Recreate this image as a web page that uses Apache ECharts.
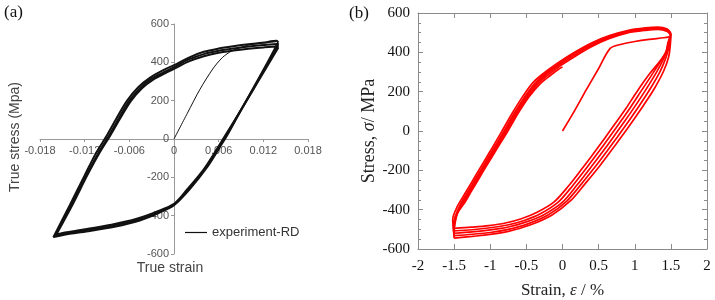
<!DOCTYPE html>
<html>
<head>
<meta charset="utf-8">
<script src="https://cdn.jsdelivr.net/npm/echarts@6/dist/echarts.min.js"></script>
<style>
  html, body { margin: 0; padding: 0; background: #fff; }
  #chart { width: 715px; height: 300px; }
</style>
</head>
<body>
<div id="chart"></div>
<script>
// ---- panel (a): ticks ----
const aStrainTicks = [-0.018, -0.012, -0.006, 0, 0.006, 0.012, 0.018]
const aStressTicks = [-600, -400, -200, 0, 200, 400, 600]

// ---- panel (a): curves, [strain, stress MPa] ----
const aInitial = [[0, 0], [0.0018, 135], [0.0035, 260], [0.0052, 365], [0.0065, 425], [0.0078, 460], [0.0100, 490], [0.0120, 500], [0.0138, 508]]

const aLoop1 = [
  [0.0140, 505], [0.0125, 395], [0.0106, 262], [0.0090, 150], [0.0073, 30], [0.0062, -40], [0.0044, -150],
  [0.0021, -262], [0, -345], [-0.0020, -385], [-0.0046, -425], [-0.0080, -458], [-0.0113, -480], [-0.0140, -495], [-0.0162, -512],
  [-0.0140, -345], [-0.0120, -190], [-0.0105, -75], [-0.0090, 20], [-0.0077, 110], [-0.0063, 200], [-0.0048, 270],
  [-0.0032, 320], [-0.0015, 358], [0, 385], [0.0020, 425], [0.0040, 455], [0.0060, 472], [0.0080, 484], [0.0100, 494],
  [0.0120, 503], [0.0138, 512], [0.0140, 505]
]
const aLoop2 = [
  [0.0140, 490], [0.0124, 380], [0.0105, 252], [0.0088, 140], [0.0071, 25], [0.0060, -45], [0.0042, -154],
  [0.0019, -264], [0, -342], [-0.0022, -383], [-0.0048, -420], [-0.0082, -452], [-0.0115, -474], [-0.0142, -490], [-0.0160, -505],
  [-0.0138, -345], [-0.0118, -190], [-0.0102, -75], [-0.0087, 20], [-0.0074, 110], [-0.0060, 200], [-0.0045, 268],
  [-0.0030, 315], [-0.0013, 350], [0, 375], [0.0020, 415], [0.0040, 443], [0.0060, 460], [0.0080, 472], [0.0100, 482],
  [0.0120, 490], [0.0139, 496], [0.0140, 490]
]
const aLoop3 = [
  [0.0140, 476], [0.0123, 365], [0.0104, 242], [0.0087, 132], [0.0069, 20], [0.0058, -50], [0.0040, -158],
  [0.0017, -266], [0, -338], [-0.0024, -380], [-0.0050, -416], [-0.0084, -447], [-0.0117, -469], [-0.0144, -486], [-0.0158, -498],
  [-0.0136, -340], [-0.0116, -186], [-0.0100, -72], [-0.0085, 22], [-0.0072, 110], [-0.0058, 198], [-0.0043, 265],
  [-0.0028, 310], [-0.0012, 343], [0, 366], [0.0020, 405], [0.0040, 432], [0.0060, 450], [0.0080, 462], [0.0100, 471],
  [0.0120, 478], [0.0139, 482], [0.0140, 476]
]

// ---- panel (b): ticks ----
const bStrainTicks = [-2, -1.5, -1, -0.5, 0, 0.5, 1, 1.5, 2]
const bStressTicks = [-600, -400, -200, 0, 200, 400, 600]

// ---- panel (b): curves, [strain %, stress MPa] ----
const bInitial = [[0, 0], [0.17, 105], [0.33, 210], [0.50, 318], [0.66, 420], [0.80, 440], [1.00, 455], [1.20, 466], [1.40, 474], [1.50, 480]]

// unloading branches (tension tip -> compression tip)
const bDown1 = [
  [1.50, 480], [1.49, 430], [1.47, 378], [1.40, 305], [1.27, 215], [1.12, 130], [0.97, 50], [0.82, -27], [0.67, -102],
  [0.52, -175], [0.32, -265], [0.12, -352], [-0.15, -428], [-0.45, -478], [-0.75, -510], [-1.00, -526], [-1.25, -536], [-1.50, -545]
]
const bDown2 = [
  [1.50, 498], [1.49, 465], [1.47, 422], [1.43, 372], [1.35, 302], [1.21, 212], [1.06, 127], [0.91, 47], [0.76, -30], [0.61, -105],
  [0.46, -178], [0.26, -270], [0.06, -356], [-0.20, -427], [-0.48, -472], [-0.75, -500], [-1.00, -516], [-1.25, -525], [-1.50, -532]
]
const bDown3 = [
  [1.50, 494], [1.48, 460], [1.45, 415], [1.40, 368], [1.30, 298], [1.15, 208], [1.00, 124], [0.85, 44], [0.70, -33], [0.55, -108],
  [0.40, -181], [0.20, -275], [0.00, -362], [-0.25, -424], [-0.50, -462], [-0.75, -488], [-1.00, -503], [-1.25, -513], [-1.50, -520]
]
const bDown4 = [
  [1.50, 490], [1.47, 455], [1.44, 408], [1.37, 362], [1.25, 293], [1.09, 204], [0.94, 120], [0.79, 41], [0.64, -36], [0.49, -111],
  [0.34, -184], [0.14, -278], [-0.06, -362], [-0.30, -420], [-0.53, -455], [-0.76, -478], [-1.00, -492], [-1.25, -502], [-1.50, -508]
]
const bDown5 = [
  [1.50, 486], [1.46, 450], [1.43, 400], [1.35, 356], [1.20, 288], [1.03, 200], [0.88, 116], [0.73, 38], [0.58, -39], [0.43, -114],
  [0.28, -187], [0.08, -281], [-0.12, -362], [-0.35, -413], [-0.57, -446], [-0.79, -468], [-1.02, -481], [-1.26, -489], [-1.50, -495]
]

// reloading branches (compression tip -> tension tip)
const bUp1 = [
  [-1.50, -545], [-1.51, -495], [-1.52, -450], [-1.45, -380], [-1.35, -318], [-1.25, -256], [-1.15, -194], [-1.00, -102],
  [-0.85, -8], [-0.70, 88], [-0.55, 176], [-0.40, 250], [-0.22, 305], [-0.05, 350], [0.15, 397], [0.40, 448], [0.65, 485],
  [0.90, 511], [1.15, 524], [1.32, 528], [1.45, 518], [1.50, 498]
]
const bUp2 = [
  [-1.50, -532], [-1.51, -485], [-1.49, -440], [-1.42, -378], [-1.32, -315], [-1.22, -253], [-1.12, -191], [-0.97, -99],
  [-0.82, -6], [-0.67, 89], [-0.52, 175], [-0.37, 247], [-0.21, 300], [-0.05, 342], [0.15, 390], [0.40, 441], [0.65, 480],
  [0.90, 507], [1.15, 520], [1.32, 524], [1.45, 514], [1.50, 494]
]
const bUp3 = [
  [-1.50, -520], [-1.50, -475], [-1.47, -430], [-1.40, -375], [-1.30, -312], [-1.20, -250], [-1.10, -188], [-0.95, -97],
  [-0.80, -5], [-0.65, 90], [-0.50, 175], [-0.35, 245], [-0.20, 295], [-0.05, 335], [0.15, 382], [0.40, 435], [0.65, 475],
  [0.90, 503], [1.15, 516], [1.32, 520], [1.45, 510], [1.50, 490]
]
const bUp4 = [
  [-1.50, -508], [-1.49, -465], [-1.46, -422], [-1.38, -372], [-1.28, -309], [-1.18, -247], [-1.08, -185], [-0.93, -95],
  [-0.78, -4], [-0.63, 91], [-0.48, 175], [-0.33, 243], [-0.19, 288], [-0.05, 327], [0.15, 374], [0.40, 428], [0.65, 470],
  [0.90, 499], [1.15, 512], [1.32, 516], [1.45, 506], [1.50, 486]
]
// last reloading stops at strain 0
const bUp5 = [
  [-1.50, -495], [-1.48, -455], [-1.45, -415], [-1.36, -368], [-1.26, -306], [-1.16, -244], [-1.06, -182], [-0.91, -92],
  [-0.76, -3], [-0.61, 92], [-0.46, 175], [-0.31, 240], [-0.17, 282], [-0.05, 315], [0.00, 325]
]

const SANS = 'Liberation Sans, Arial, sans-serif'
const SERIF = 'Liberation Serif, Times New Roman, serif'

// grid boxes (px)
const A_GRID = { left: 40, right: 407, top: 24, bottom: 46, outerBoundsMode: 'none' }
const B_GRID = { left: 418, right: 8, top: 13, bottom: 51, outerBoundsMode: 'none' }
const A_W = 715 - A_GRID.left - A_GRID.right
const A_H = 300 - A_GRID.top - A_GRID.bottom

function step(ticks) {
  return ticks[1] - ticks[0]
}

function aSeries(data, width) {
  return {
    name: 'experiment-RD',
    type: 'line',
    xAxisIndex: 0,
    yAxisIndex: 0,
    data,
    symbol: 'none',
    smooth: 0.3,
    lineStyle: { color: '#111', width },
    color: '#111'
  }
}

function bSeries(name, data) {
  return {
    name,
    type: 'line',
    xAxisIndex: 1,
    yAxisIndex: 1,
    data,
    symbol: 'none',
    smooth: 0.3,
    lineStyle: { color: '#ff0000', width: 1.7 },
    color: '#ff0000'
  }
}

const frame = { show: true, onZero: false, lineStyle: { color: '#8a8a8a', width: 1 } }
const bTick = { show: true, inside: true, length: 5, lineStyle: { color: '#8a8a8a' } }
const bMinor = { show: true, splitNumber: 4, length: 3, lineStyle: { color: '#8a8a8a' } }
const bLabel = { fontFamily: SERIF, fontSize: 15, color: '#111' }
const bName = (size) => ({
  fontFamily: SERIF, fontSize: size, color: '#222',
  rich: { i: { fontFamily: SERIF, fontSize: size, fontStyle: 'italic', color: '#222' } }
})

const option = {
  backgroundColor: '#fff',
  animation: false,
  grid: [A_GRID, B_GRID],
  legend: {
    data: ['experiment-RD'],
    left: 180,
    top: 221,
    icon: 'rect',
    itemWidth: 22,
    itemHeight: 1.2,
    itemGap: 6,
    textStyle: { fontFamily: SANS, fontSize: 13, color: '#333' }
  },
  xAxis: [
    {
      gridIndex: 0,
      type: 'value',
      position: 'bottom',
      offset: -A_H / 2,
      min: aStrainTicks[0],
      max: aStrainTicks[aStrainTicks.length - 1],
      interval: step(aStrainTicks),
      axisLine: { show: true, onZero: false, lineStyle: { color: '#999' } },
      axisTick: { show: true, length: 3, lineStyle: { color: '#999' } },
      axisLabel: {
        margin: 6, fontFamily: SANS, fontSize: 11, color: '#555',
        formatter: (v) => String(Number(v.toFixed(3)))
      },
      splitLine: { show: false }
    },
    {
      gridIndex: 1,
      type: 'value',
      min: bStrainTicks[0],
      max: bStrainTicks[bStrainTicks.length - 1],
      interval: step(bStrainTicks),
      name: 'Strain, {i|ε} / %',
      nameLocation: 'middle',
      nameGap: 33,
      nameTextStyle: bName(17),
      axisLine: frame,
      axisTick: bTick,
      axisLabel: Object.assign({ margin: 10, formatter: (v) => String(Number(v.toFixed(1))) }, bLabel),
      splitLine: { show: false }
    },
    {
      gridIndex: 1,
      type: 'value',
      position: 'top',
      min: bStrainTicks[0],
      max: bStrainTicks[bStrainTicks.length - 1],
      interval: step(bStrainTicks),
      axisLine: frame,
      axisTick: bTick,
      axisLabel: { show: false },
      splitLine: { show: false }
    }
  ],
  yAxis: [
    {
      gridIndex: 0,
      type: 'value',
      position: 'left',
      offset: -A_W / 2,
      min: aStressTicks[0],
      max: aStressTicks[aStressTicks.length - 1],
      interval: step(aStressTicks),
      axisLine: { show: true, onZero: false, lineStyle: { color: '#999' } },
      axisTick: { show: true, length: 3, lineStyle: { color: '#999' } },
      axisLabel: { margin: 5, fontFamily: SANS, fontSize: 11, color: '#555' },
      splitLine: { show: false }
    },
    {
      gridIndex: 1,
      type: 'value',
      position: 'left',
      min: bStressTicks[0],
      max: bStressTicks[bStressTicks.length - 1],
      interval: step(bStressTicks),
      name: 'Stress, {i|σ}/ MPa',
      nameLocation: 'middle',
      nameGap: 39,
      nameTextStyle: bName(18),
      axisLine: frame,
      axisTick: bTick,
      minorTick: bMinor,
      axisLabel: Object.assign({ margin: 8 }, bLabel),
      splitLine: { show: false }
    },
    {
      gridIndex: 1,
      type: 'value',
      position: 'right',
      min: bStressTicks[0],
      max: bStressTicks[bStressTicks.length - 1],
      interval: step(bStressTicks),
      axisLine: frame,
      axisTick: bTick,
      minorTick: bMinor,
      axisLabel: { show: false },
      splitLine: { show: false }
    }
  ],
  graphic: [
    { type: 'text', x: 4, y: 4, style: { text: '(a)', fontFamily: SERIF, fontSize: 17, fill: '#111' } },
    { type: 'text', x: 349, y: 5, style: { text: '(b)', fontFamily: SERIF, fontSize: 17, fill: '#111' } },
    {
      type: 'text', x: 15, y: 137, rotation: Math.PI / 2,
      style: { text: 'True stress (Mpa)', fontFamily: SANS, fontSize: 14, fill: '#444', align: 'center', verticalAlign: 'middle' }
    },
    {
      type: 'text', x: 170, y: 268,
      style: { text: 'True strain', fontFamily: SANS, fontSize: 14, fill: '#444', align: 'center', verticalAlign: 'middle' }
    }
  ],
  series: [
    aSeries(aInitial, 1),
    aSeries(aLoop1, 2),
    aSeries(aLoop2, 2),
    aSeries(aLoop3, 2),
    bSeries('b0', bInitial),
    bSeries('d1', bDown1), bSeries('u1', bUp1),
    bSeries('d2', bDown2), bSeries('u2', bUp2),
    bSeries('d3', bDown3), bSeries('u3', bUp3),
    bSeries('d4', bDown4), bSeries('u4', bUp4),
    bSeries('d5', bDown5), bSeries('u5', bUp5)
  ]
}

const chart = echarts.init(document.getElementById('chart'), null, { renderer: 'canvas' })
chart.setOption(option)
window.addEventListener('resize', () => chart.resize())
</script>
</body>
</html>
